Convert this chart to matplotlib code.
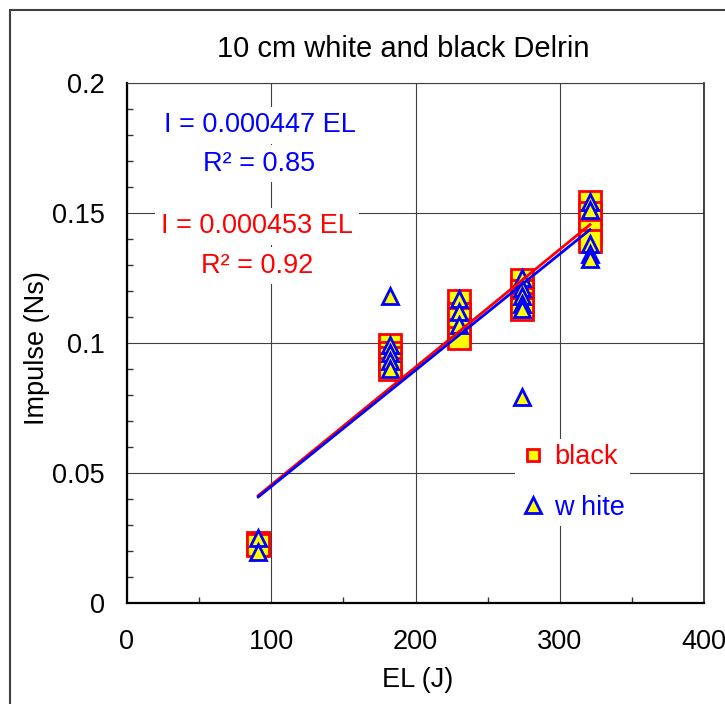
import matplotlib
matplotlib.use("Agg")
import matplotlib.pyplot as plt
from matplotlib.lines import Line2D
from matplotlib.patches import Rectangle
import numpy as np

plt.rcParams['font.family'] = ['Liberation Sans', 'DejaVu Sans']

# ---- data ----
black_x = [91, 91,
           182, 182, 182, 182, 182,
           230, 230, 230, 230, 230,
           274, 274, 274, 274, 274,
           321, 321, 321, 321, 321]
black_y = [0.0231, 0.0223,
           0.099, 0.096, 0.094, 0.092, 0.090,
           0.116, 0.111, 0.109, 0.105, 0.102,
           0.124, 0.120, 0.117, 0.115, 0.113,
           0.154, 0.150, 0.147, 0.143, 0.139]
white_x = [91, 91,
           182, 182, 182, 182, 182,
           230, 230, 230,
           274, 274, 274, 274, 274, 274,
           321, 321, 321, 321, 321]
white_y = [0.025, 0.0195,
           0.118, 0.099, 0.096, 0.093, 0.090,
           0.117, 0.112, 0.107,
           0.125, 0.121, 0.118, 0.115, 0.113, 0.079,
           0.154, 0.151, 0.138, 0.134, 0.132]
slope_black = 0.000453
slope_white = 0.000447
r2_black = 0.92
r2_white = 0.85
x_ticks = [0, 100, 200, 300, 400]
y_ticks = [0, 0.05, 0.1, 0.15, 0.2]
y_tick_labels = ['0', '0.05', '0.1', '0.15', '0.2']

W, H = 725, 704
FS = 19.5
fig = plt.figure(figsize=(W / 100, H / 100), dpi=100)

def fx(px):
    return px / W

def fy(py):
    return 1 - py / H

# outer frame
fig.patches.append(Rectangle((fx(10), fy(800)), fx(800), fy(10) - fy(800),
                             transform=fig.transFigure, fill=False,
                             edgecolor='#404040', linewidth=1.5))

ax = fig.add_axes([fx(127), fy(602.7), fx(704) - fx(127), fy(82.7) - fy(602.7)])
ax.set_xlim(0, 400)
ax.set_ylim(0, 0.2)

ax.set_xticks(x_ticks)
ax.set_xticklabels([str(v) for v in x_ticks])
ax.set_yticks(y_ticks)
ax.set_yticklabels(y_tick_labels)
ax.set_xticks(np.arange(50, 400, 100), minor=True)
ax.set_yticks(np.arange(0.01, 0.2, 0.01), minor=True)
ax.tick_params(which='major', length=0, labelsize=FS, colors='black')
ax.tick_params(axis='x', which='major', pad=19)
ax.tick_params(axis='y', which='major', pad=16)
ax.tick_params(which='minor', direction='in', length=4, width=1, color='#333333')

ax.grid(True, which='major', color='#404040', linewidth=0.8)
ax.set_axisbelow(True)
for s in ['left', 'bottom']:
    ax.spines[s].set_color('black')
    ax.spines[s].set_linewidth(1.6)
ax.spines['top'].set_color('#404040')
ax.spines['top'].set_linewidth(0.8)
ax.spines['right'].set_color('#202020')
ax.spines['right'].set_linewidth(1.2)

# data markers
ax.plot(black_x, black_y, linestyle='none', marker='s', markersize=16.5,
        markerfacecolor='#FFFF00', markeredgecolor='#FF0000', markeredgewidth=2, zorder=3)
ax.plot(white_x, white_y, linestyle='none', marker='^', markersize=11.5,
        markerfacecolor='#FFFF00', markeredgecolor='#0000FF', markeredgewidth=2, zorder=4)

# trend lines
xb = np.array([min(black_x), max(black_x)])
xw = np.array([min(white_x), max(white_x)])
ax.plot(xb, slope_black * xb, color='#FF0000', linewidth=2, zorder=5)
ax.plot(xw, slope_white * xw, color='#0000FF', linewidth=2, zorder=6)

# legend
handles = [Line2D([], [], linestyle='none', marker='s', markersize=9,
                  markerfacecolor='#FFFF00', markeredgecolor='#FF0000', markeredgewidth=2),
           Line2D([], [], linestyle='none', marker='^', markersize=11,
                  markerfacecolor='#FFFF00', markeredgecolor='#0000FF', markeredgewidth=2)]
leg = ax.legend(handles, ['black', 'w hite'], loc='upper left',
                bbox_to_anchor=(fx(515), fy(439)), bbox_transform=fig.transFigure,
                fontsize=FS, frameon=True, facecolor='white', edgecolor='none',
                framealpha=1, fancybox=False, borderaxespad=0, borderpad=0.2,
                handlelength=0.95, handletextpad=0.28, labelspacing=0.9,
                labelcolor=['#FF0000', '#0000FF'])
leg.set_zorder(7)

# equation texts
bb = dict(facecolor='white', edgecolor='none', pad=4)
fig.text(fx(260), fy(132.3), 'I = %.6f EL' % slope_white, color='#0000FF',
         fontsize=FS, ha='center', va='baseline', bbox=bb)
fig.text(fx(259), fy(170.7), 'R\u00b2 = %.2f' % r2_white, color='#0000FF',
         fontsize=FS, ha='center', va='baseline', bbox=bb)
fig.text(fx(257), fy(233.3), 'I = %.6f EL' % slope_black, color='#FF0000',
         fontsize=FS, ha='center', va='baseline', bbox=bb)
fig.text(fx(257), fy(272.7), 'R\u00b2 = %.2f' % r2_black, color='#FF0000',
         fontsize=FS, ha='center', va='baseline', bbox=bb)

# title and axis labels
fig.text(fx(403.5), fy(56.7), '10 cm white and black Delrin', fontsize=21,
         ha='center', va='baseline', color='black')
fig.text(fx(37), fy(348), 'Impulse (Ns)', fontsize=FS, rotation=90,
         ha='center', va='center', color='black')
fig.text(fx(418), fy(680), 'EL (J)', fontsize=FS, ha='center', va='center', color='black')

fig.savefig('out.png', dpi=100)
